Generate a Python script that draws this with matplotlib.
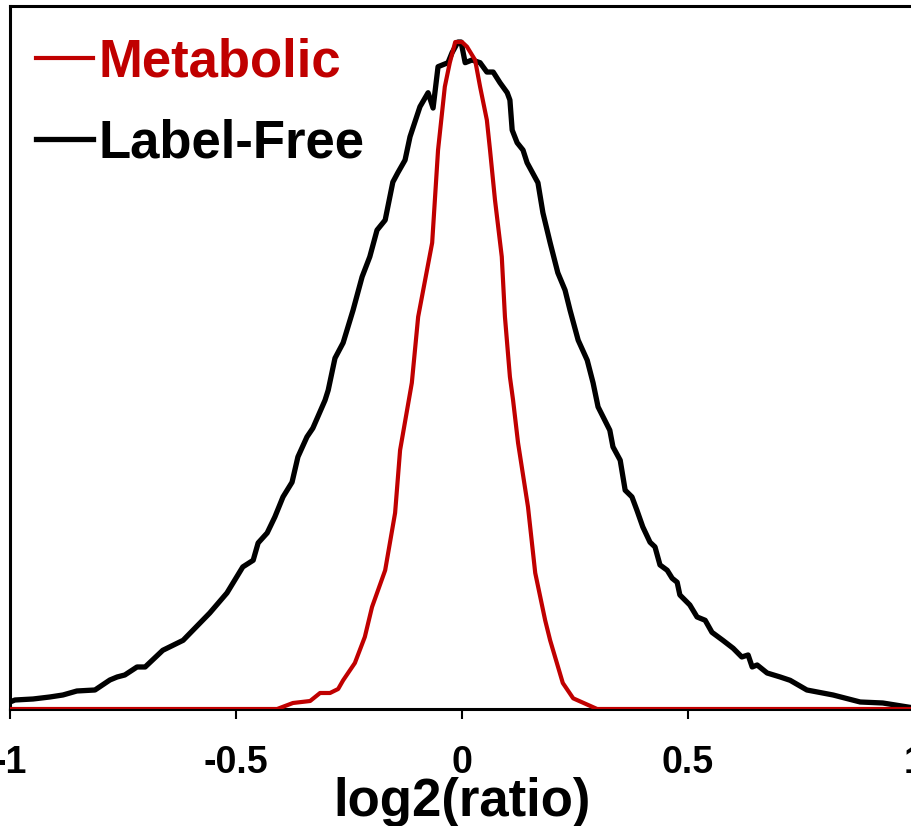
import matplotlib
matplotlib.use("Agg")
import matplotlib.pyplot as plt

plt.rcParams['font.family'] = ['Liberation Sans', 'DejaVu Sans']
plt.rcParams['font.weight'] = 'bold'

# Label-Free distribution (normalized to peak = 1)
lf_x = [-1.0, -0.989, -0.949, -0.912, -0.883, -0.852, -0.812, -0.779, -0.763, -0.746,
        -0.719, -0.701, -0.662, -0.653, -0.617, -0.558, -0.520, -0.485, -0.462, -0.451,
        -0.431, -0.414, -0.396, -0.376, -0.363, -0.343, -0.330, -0.303, -0.296, -0.281,
        -0.263, -0.241, -0.221, -0.204, -0.188, -0.170, -0.153, -0.142, -0.126, -0.115,
        -0.093, -0.075, -0.064, -0.053, -0.031, -0.022, -0.009, -0.002, 0.007, 0.022,
        0.040, 0.055, 0.069, 0.084, 0.100, 0.106, 0.111, 0.122, 0.135, 0.144,
        0.168, 0.179, 0.195, 0.212, 0.228, 0.239, 0.257, 0.277, 0.290, 0.301,
        0.327, 0.334, 0.350, 0.361, 0.376, 0.387, 0.400, 0.416, 0.427, 0.438,
        0.454, 0.465, 0.476, 0.482, 0.504, 0.520, 0.538, 0.553, 0.577, 0.600,
        0.619, 0.633, 0.642, 0.653, 0.675, 0.704, 0.726, 0.763, 0.821, 0.881,
        0.931, 1.0]
lf_y = [0.0105, 0.0135, 0.015, 0.018, 0.021, 0.027, 0.0285, 0.0435, 0.048, 0.051,
        0.063, 0.063, 0.088, 0.091, 0.103, 0.144, 0.174, 0.213, 0.223, 0.249,
        0.264, 0.288, 0.318, 0.340, 0.378, 0.408, 0.421, 0.463, 0.478, 0.526,
        0.549, 0.598, 0.648, 0.678, 0.718, 0.733, 0.790, 0.804, 0.823, 0.858,
        0.903, 0.924, 0.901, 0.963, 0.969, 0.984, 1.0, 1.0, 0.969, 0.973,
        0.969, 0.955, 0.955, 0.939, 0.924, 0.913, 0.868, 0.849, 0.838, 0.819,
        0.789, 0.744, 0.699, 0.654, 0.628, 0.598, 0.553, 0.523, 0.489, 0.453,
        0.418, 0.393, 0.373, 0.328, 0.318, 0.298, 0.273, 0.250, 0.243, 0.216,
        0.208, 0.196, 0.190, 0.171, 0.156, 0.138, 0.133, 0.115, 0.103, 0.091,
        0.078, 0.081, 0.063, 0.066, 0.054, 0.048, 0.043, 0.0285, 0.021, 0.0105,
        0.009, 0.0015]

# Metabolic distribution (normalized to peak = 1)
mt_x = [-1.0, -0.409, -0.374, -0.336, -0.314, -0.292, -0.274, -0.263, -0.237, -0.215,
        -0.199, -0.170, -0.148, -0.137, -0.111, -0.097, -0.066, -0.053, -0.038, -0.027,
        -0.015, 0.0, 0.011, 0.029, 0.040, 0.055, 0.062, 0.073, 0.088, 0.095,
        0.106, 0.113, 0.124, 0.146, 0.162, 0.184, 0.195, 0.223, 0.246, 0.299, 1.0]
mt_y = [0.0, 0.0, 0.009, 0.012, 0.024, 0.024, 0.030, 0.043, 0.069, 0.108,
        0.153, 0.208, 0.294, 0.388, 0.489, 0.588, 0.699, 0.838, 0.933, 0.969,
        1.0, 1.0, 0.993, 0.973, 0.933, 0.883, 0.838, 0.763, 0.678, 0.588,
        0.498, 0.463, 0.399, 0.303, 0.204, 0.133, 0.103, 0.039, 0.016, 0.0, 0.0]

xticks = [-1, -0.5, 0, 0.5, 1]
xtick_labels = ['-1', '-0.5', '0', '0.5', '1']

fig = plt.figure(figsize=(9.12, 8.26), dpi=100)
ax = fig.add_axes([10/912, 117/826, 904/912, 703/826])

ax.plot(lf_x, lf_y, color='black', lw=3.8, label='Label-Free', solid_joinstyle='round', zorder=3)
ax.plot(mt_x, mt_y, color='#C00000', lw=3.0, label='Metabolic', solid_joinstyle='round', zorder=4)

ax.set_xlim(-1, 1)
ax.set_ylim(0, 1.054)
ax.set_yticks([])
ax.set_xticks(xticks)
ax.set_xticklabels(xtick_labels, fontsize=27, fontweight='bold')
ax.tick_params(axis='x', direction='out', length=7, width=1.5, pad=19)
for s in ax.spines.values():
    s.set_linewidth(2.2)

ax.set_xlabel('log2(ratio)', fontsize=38, fontweight='bold', labelpad=-3)

handles, labels = ax.get_legend_handles_labels()
leg = ax.legend(handles[::-1], labels[::-1], loc='upper left', bbox_to_anchor=(0.029, 0.955),
                frameon=False, prop={'size': 38, 'weight': 'bold'},
                handlelength=1.08, handletextpad=0.1, labelspacing=0.58,
                borderaxespad=0.0, borderpad=0.0)
for txt, h in zip(leg.get_texts(), leg.legend_handles):
    txt.set_color(h.get_color())

fig.savefig('out.png', dpi=100)
